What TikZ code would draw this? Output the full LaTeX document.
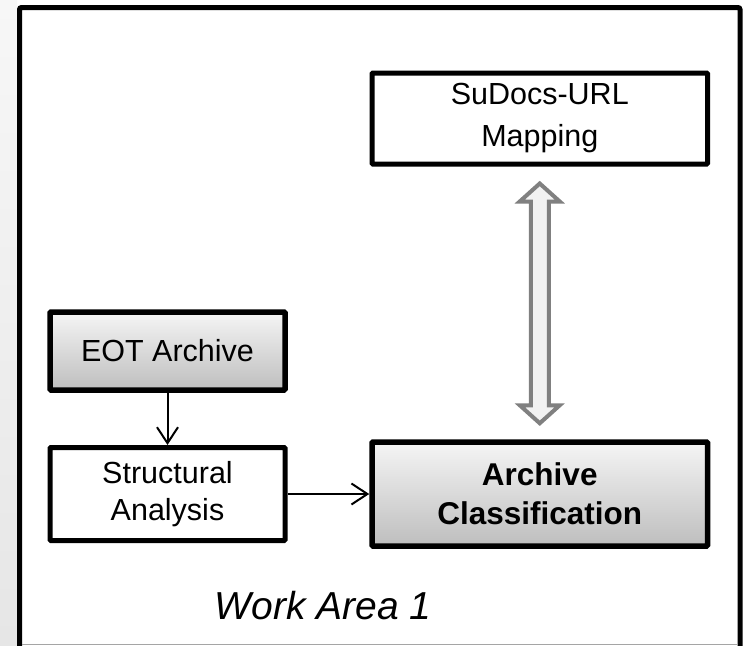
\documentclass[tikz,border=0pt]{standalone}
\usepackage{fontspec}
\setmainfont{Liberation Sans}
\usetikzlibrary{arrows.meta,calc}
\definecolor{boxtop}{RGB}{245,245,245}
\definecolor{boxbot}{RGB}{190,190,190}
\definecolor{arrowgray}{RGB}{128,128,128}
\definecolor{arrowfill}{RGB}{242,242,242}
\definecolor{striptop}{RGB}{247,247,247}
\definecolor{stripbot}{RGB}{230,230,230}
\begin{document}
\begin{tikzpicture}[x=1pt,y=-1pt,
  box/.style={draw=black, line width=5pt, rectangle, rounded corners=1pt, inner sep=0pt,
    align=center, fill=white, font=\fontsize{30.5}{37}\selectfont},
  graybox/.style={box, line width=5.5pt, top color=boxtop, bottom color=boxbot},
  thinarrow/.style={draw=black, line width=2pt,
    -{Straight Barb[length=16pt,width=21pt,line width=2pt]}},
  dblarrow/.style={draw=arrowgray, fill=arrowfill, line width=4pt, line join=miter}
]
\useasboundingbox (0,0) rectangle (743,645);
\fill[white] (0,0) rectangle (743,645);
\shade[top color=striptop, bottom color=stripbot] (0,0) rectangle (17,645);

% frame
\draw[line width=5pt, rounded corners=2pt] (19.5,650) -- (19.5,7.5) -- (740,7.5) -- (740,650);
\draw[line width=1pt, color={rgb,255:red,165;green,165;blue,165}] (22,644.5) -- (737.5,644.5);

% nodes
\node[box, minimum width=335.5pt, minimum height=91pt,
  font=\fontsize{30.5}{42}\selectfont] (sud) at (539.75,118.5) {SuDocs-URL\\Mapping};
\node[graybox, minimum width=235pt, minimum height=78pt] (eot) at (167.5,351) {EOT Archive};
\node[box, minimum width=235pt, minimum height=93pt] (str) at (167.5,494) {Structural\\Analysis};
\node[graybox, minimum width=335.5pt, minimum height=104pt,
  font=\bfseries\fontsize{31.5}{39}\selectfont] (arc) at (539.75,494) {Archive\\Classification};
\node[font=\itshape\fontsize{39}{42}\selectfont] (work) at (323,606) {Work Area 1};

% connectors
\draw[thinarrow] (eot) -- (str);
\draw[thinarrow] (str) -- (arc);

\coordinate (dt) at ($(sud.south)+(0,17)$);
\coordinate (db) at ($(arc.north)+(0,-16)$);
\draw[dblarrow] (dt) -- ++(20,18) -- ++(-11,0) -- ($(db)+(9,-18)$) -- ++(11,0)
  -- (db) -- ++(-20,-18) -- ++(11,0) -- ($(dt)+(-9,18)$) -- ++(-11,0) -- cycle;
\end{tikzpicture}
\end{document}
